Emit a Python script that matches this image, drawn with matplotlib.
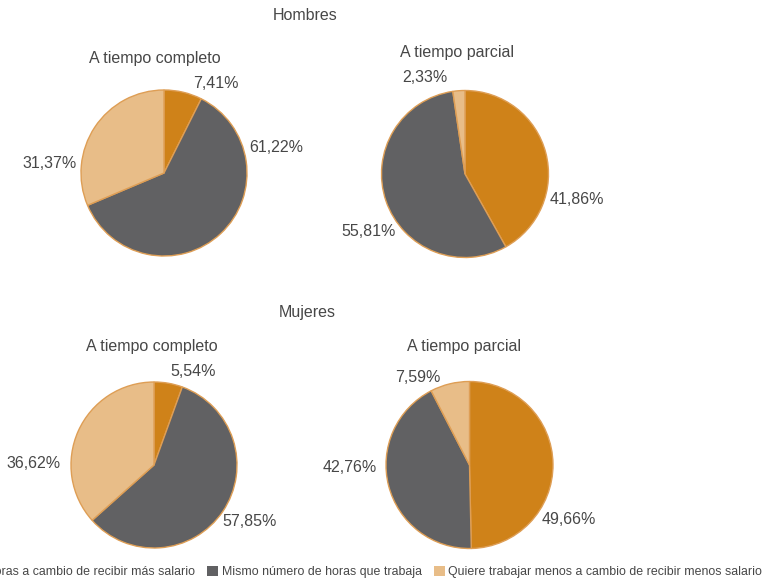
import matplotlib
matplotlib.use("Agg")
import matplotlib.pyplot as plt
from matplotlib.patches import Patch

plt.rcParams['font.family'] = ['Liberation Sans', 'DejaVu Sans']

categories = ["Quiere trabajar más horas a cambio de recibir más salario",
              "Mismo número de horas que trabaja",
              "Quiere trabajar menos a cambio de recibir menos salario"]
colors = ["#CF8219", "#616163", "#E8BD88"]

hombres_completo = [7.41, 61.22, 31.37]
hombres_parcial = [41.86, 55.81, 2.33]
mujeres_completo = [5.54, 57.85, 36.62]
mujeres_parcial = [49.66, 42.76, 7.59]

W, H = 768, 583
fig = plt.figure(figsize=(W / 100, H / 100), dpi=100)
ax = fig.add_axes([0, 0, 1, 1])

def Y(y):
    return H - y

txt_color = "#474747"
fs = 11.5

pies = [
    # values, center(px), radius, subtitle pos, label positions
    (hombres_completo, (164, 173), 83, (155, 59), [(216, 84), (276, 147), (50, 163)]),
    (hombres_parcial, (465, 174), 83.5, (457, 52), [(577, 200), (369, 232), (425, 77)]),
    (mujeres_completo, (154, 465), 83, (152, 346), [(193, 371), (250, 522), (34, 464)]),
    (mujeres_parcial, (469.5, 465), 83.5, (464, 346), [(569, 520), (350, 467), (418, 377)]),
]
subtitles = ["A tiempo completo", "A tiempo parcial", "A tiempo completo", "A tiempo parcial"]

for (vals, c, r, tpos, lpos), sub in zip(pies, subtitles):
    ax.pie(vals, colors=colors, startangle=90, counterclock=False,
           center=(c[0], Y(c[1])), radius=r,
           wedgeprops=dict(edgecolor="#DE9E55", linewidth=1.0))
    ax.text(tpos[0], Y(tpos[1]), sub, ha="center", va="center",
            fontsize=fs, color=txt_color)
    for v, (lx, ly) in zip(vals, lpos):
        ax.text(lx, Y(ly), f"{v:.2f}%".replace(".", ","), ha="center",
                va="center", fontsize=fs, color=txt_color)

ax.text(305, Y(15), "Hombres", ha="center", va="center", fontsize=fs, color=txt_color)
ax.text(307, Y(313), "Mujeres", ha="center", va="center", fontsize=fs, color=txt_color)

ax.set_xlim(0, W)
ax.set_ylim(0, H)
ax.set_aspect("auto")
ax.axis("off")

handles = [Patch(facecolor=col, edgecolor="none") for col in colors]
fig.legend(handles, categories, loc="center right",
           bbox_to_anchor=(762 / W, 1 - 572 / H), ncol=3, frameon=False,
           borderaxespad=0, borderpad=0, fontsize=8.9,
           handlelength=0.9, handleheight=0.9, handletextpad=0.25,
           columnspacing=1.0, labelcolor=txt_color)

fig.savefig("out.png", dpi=100)
